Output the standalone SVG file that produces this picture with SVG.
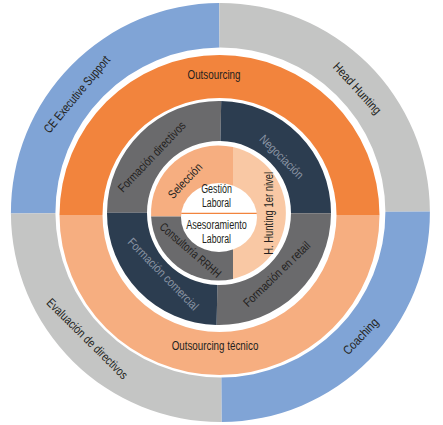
<svg xmlns="http://www.w3.org/2000/svg" width="443" height="425" viewBox="0 0 443 425">
<style>
.t{font-family:"Liberation Sans Narrow","Liberation Sans",Arial,sans-serif;font-size:12.5px;fill:#231F20;text-anchor:middle}
.s{font-size:12px}
.nv{fill:#8A94A3}
.blue{fill:#80A4D6}
.lg{fill:#C4C5C4}
.or{fill:#F2843D}
.lor{fill:#F6AE80}
.xor{fill:#F9C8A4}
.dg{fill:#6A6A6C}
.nav{fill:#2C3D50}
</style>
<rect width="443" height="425" fill="#FFFFFF"/>
<g id="outer-ring" transform="rotate(-0.3 220.4 212.5)">
<g id="ce-executive-support">
<path class="blue" d="M10.9,212.5 A209.5,209.5 0 0 1 220.4,3 L220.4,47.5 A165,165 0 0 0 55.4,212.5 Z"/>
<text class="t" transform="translate(77.5,93.5) rotate(-50)" y="4.3" textLength="96" lengthAdjust="spacingAndGlyphs">CE Executive Support</text>
</g>
<g id="head-hunting">
<path class="lg" d="M220.4,3 A209.5,209.5 0 0 1 429.9,212.5 L385.4,212.5 A165,165 0 0 0 220.4,47.5 Z"/>
<text class="t" transform="translate(358,89) rotate(48)" y="4.3" textLength="65" lengthAdjust="spacingAndGlyphs">Head Hunting</text>
</g>
<g id="coaching">
<path class="blue" d="M429.9,212.5 A209.5,209.5 0 0 1 220.4,422 L220.4,377.5 A165,165 0 0 0 385.4,212.5 Z"/>
<text class="t" transform="translate(360,337) rotate(-46)" y="4.3" textLength="45" lengthAdjust="spacingAndGlyphs">Coaching</text>
</g>
<g id="evaluacion-de-directivos">
<path class="lg" d="M220.4,422 A209.5,209.5 0 0 1 10.9,212.5 L55.4,212.5 A165,165 0 0 0 220.4,377.5 Z"/>
<text class="t" transform="translate(86.7,338) rotate(45)" y="4.3" textLength="108.5" lengthAdjust="spacingAndGlyphs">Evaluación de directivos</text>
</g>
</g>
<g id="outsourcing">
<path class="or" d="M59.5,215 A160,160 0 1 1 379.5,215 L336.5,215 A117,117 0 1 0 102.5,215 Z"/>
<text class="t" x="214" y="79.3" textLength="53" lengthAdjust="spacingAndGlyphs">Outsourcing</text>
</g>
<g id="outsourcing-tecnico">
<path class="lor" d="M379.5,215 A160,160 0 0 1 59.5,215 L102.5,215 A117,117 0 0 0 336.5,215 Z"/>
<text class="t" x="215" y="350" textLength="86.7" lengthAdjust="spacingAndGlyphs">Outsourcing técnico</text>
</g>
<g id="formacion-directivos">
<path class="dg" d="M107,212.7 A112,112 0 0 1 221.2,101 L220.4,141 A72,72 0 0 0 147,212.8 Z"/>
<text class="t s" transform="translate(151.7,156.7) rotate(-46.5)" y="4.2" textLength="92" lengthAdjust="spacingAndGlyphs">Formación directivos</text>
</g>
<g id="negociacion">
<path class="nav" d="M221.2,101 A112,112 0 0 1 331,213.3 L291,213.2 A72,72 0 0 0 220.4,141 Z"/>
<text class="t s nv" transform="translate(281.7,156.7) rotate(45)" y="4.2" textLength="56.6" lengthAdjust="spacingAndGlyphs">Negociación</text>
</g>
<g id="formacion-en-retail">
<path class="dg" d="M331,213.3 A112,112 0 0 1 216.6,325 L217.4,285 A72,72 0 0 0 291,213.2 Z"/>
<text class="t s" transform="translate(276.7,274) rotate(-44)" y="4.2" textLength="88" lengthAdjust="spacingAndGlyphs">Formación en retail</text>
</g>
<g id="formacion-comercial">
<path class="nav" d="M216.6,325 A112,112 0 0 1 107,212.7 L147,212.8 A72,72 0 0 0 217.4,285 Z"/>
<text class="t s nv" transform="translate(163.3,274) rotate(45.7)" y="4.2" textLength="95.5" lengthAdjust="spacingAndGlyphs">Formación comercial</text>
</g>
<g id="h-hunting-1er-nivel">
<path class="xor" d="M233,147.1 A67.5,67.5 0 0 1 233,278.9 Z"/>
<text class="t s" transform="translate(268.3,213.3) rotate(-90)" y="4.2" textLength="83" lengthAdjust="spacingAndGlyphs">H. Hunting 1er nivel</text>
</g>
<g id="seleccion">
<path class="lor" d="M233,216.5 L233,147.1 A67.5,67.5 0 0 0 151.1,216.5 Z"/>
<text class="t s" transform="translate(185,180.7) rotate(-46.5)" y="4.2" textLength="43.6" lengthAdjust="spacingAndGlyphs">Selección</text>
</g>
<g id="consultoria-rrhh">
<path class="dg" d="M233,216.5 L151.1,216.5 A67.5,67.5 0 0 0 233,278.9 Z"/>
<text class="t s" transform="translate(190.5,250) rotate(41)" y="4.2" textLength="76.8" lengthAdjust="spacingAndGlyphs">Consultoría RRHH</text>
</g>
<g id="centro">
<ellipse cx="219" cy="217.5" rx="38" ry="34.5" fill="#FFFFFF"/>
<line x1="181.3" y1="213.3" x2="256.7" y2="213.3" stroke="#F2843D" stroke-width="1.2"/>
<g id="gestion-laboral">
<text class="t s" x="216.5" y="193.2" textLength="30.7" lengthAdjust="spacingAndGlyphs">Gestión</text>
<text class="t s" x="216.5" y="206.9" textLength="29" lengthAdjust="spacingAndGlyphs">Laboral</text>
</g>
<g id="asesoramiento-laboral">
<text class="t s" x="216.5" y="229.2" textLength="60.7" lengthAdjust="spacingAndGlyphs">Asesoramiento</text>
<text class="t s" x="216.5" y="242.9" textLength="29" lengthAdjust="spacingAndGlyphs">Laboral</text>
</g>
</g>
</svg>
